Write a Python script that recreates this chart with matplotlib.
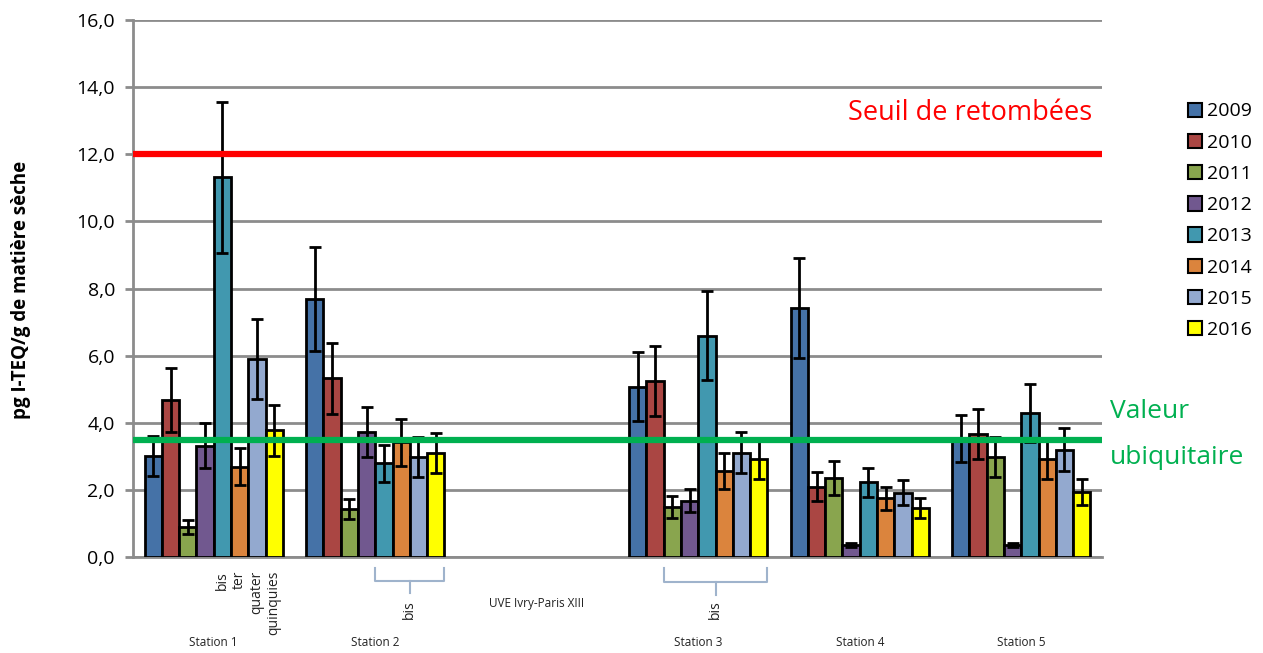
import numpy as np
import matplotlib
matplotlib.use("Agg")
import matplotlib.pyplot as plt
from matplotlib.patches import Patch
import matplotlib.transforms as mtransforms

plt.rcParams['font.family'] = ['Open Sans', 'DejaVu Sans']

categories = ["Station 1", "Station 2", "UVE Ivry-Paris XIII", "Station 3", "Station 4", "Station 5"]
years = ["2009", "2010", "2011", "2012", "2013", "2014", "2015", "2016"]
nan = np.nan
v2009 = [3.00, 7.69, nan, 5.07, 7.43, 3.53]
v2010 = [4.68, 5.32, nan, 5.25, 2.10, 3.66]
v2011 = [0.90, 1.42, nan, 1.50, 2.35, 2.99]
v2012 = [3.32, 3.73, nan, 1.68, 0.36, 0.36]
v2013 = [11.31, 2.79, nan, 6.59, 2.22, 4.28]
v2014 = [2.69, 3.42, nan, 2.57, 1.75, 2.92]
v2015 = [5.90, 2.99, nan, 3.11, 1.92, 3.19]
v2016 = [3.78, 3.09, nan, 2.91, 1.45, 1.93]
e2009 = [0.60, 1.54, nan, 1.03, 1.49, 0.70]
e2010 = [0.95, 1.07, nan, 1.04, 0.43, 0.74]
e2011 = [0.20, 0.30, nan, 0.33, 0.50, 0.60]
e2012 = [0.66, 0.75, nan, 0.35, 0.07, 0.07]
e2013 = [2.25, 0.56, nan, 1.33, 0.44, 0.86]
e2014 = [0.55, 0.70, nan, 0.53, 0.35, 0.60]
e2015 = [1.18, 0.60, nan, 0.62, 0.38, 0.64]
e2016 = [0.76, 0.60, nan, 0.58, 0.30, 0.39]
values = [v2009, v2010, v2011, v2012, v2013, v2014, v2015, v2016]
errors = [e2009, e2010, e2011, e2012, e2013, e2014, e2015, e2016]
colors = ["#4572a7", "#aa4643", "#89a54e", "#71588f", "#4198af", "#db843d", "#93a9cf", "#ffff00"]

seuil = 12.0
ubiquitaire = 3.5

W, H = 1263, 653
fig = plt.figure(figsize=(W / 100, H / 100), dpi=100)
ax = fig.add_axes([133 / W, 1 - 557 / H, (1102 - 133) / W, (557 - 20) / H])

x = np.arange(len(categories))
bw = 0.855 / len(years)
for i, (vals, errs, c) in enumerate(zip(values, errors, colors)):
    pos = x + (i - 3.5) * bw
    ax.bar(pos, vals, width=bw, color=c, edgecolor="black", linewidth=2, zorder=3)
    ax.errorbar(pos, vals, yerr=errs, fmt="none", ecolor="black", elinewidth=2,
                capsize=4.5, capthick=2, zorder=4)

ax.axhline(seuil, color="#ff0000", linewidth=4.5, zorder=5)
ax.axhline(ubiquitaire, color="#00b050", linewidth=4.5, zorder=5)

ax.set_xlim(-0.5, len(categories) - 0.5)
ax.set_ylim(0, 16)
ax.set_yticks(np.arange(0, 17, 2))
ax.set_yticklabels([f"{t:.1f}".replace(".", ",") for t in np.arange(0, 17, 2)], fontsize=14)
ax.set_xticks([])
ax.yaxis.grid(True, color="#8c8c8c", linewidth=2)
ax.set_axisbelow(True)
for s in ["top", "right"]:
    ax.spines[s].set_visible(False)
for s in ["left", "bottom"]:
    ax.spines[s].set_color("#8c8c8c")
    ax.spines[s].set_linewidth(2)
ax.tick_params(axis="y", color="#8c8c8c", width=2, length=6, pad=7)

fig.text(21 / W, 1 - 290 / H, "pg I-TEQ/g de matière sèche", fontsize=13.5, fontweight="bold",
         rotation=90, ha="center", va="center")

# threshold texts
fig.text(970 / W, 1 - 113 / H, "Seuil de retombées", color="#ff0000", fontsize=19.5,
         ha="center", va="center")
fig.text(1110 / W, 1 - 412 / H, "Valeur", color="#00b050", fontsize=19, ha="left", va="center")
fig.text(1110 / W, 1 - 457 / H, "ubiquitaire", color="#00b050", fontsize=19, ha="left", va="center")

# category labels
trans = mtransforms.blended_transform_factory(ax.transData, fig.transFigure)
for xi, name in zip(x, categories):
    yy = 603 if name.startswith("UVE") else 643
    ax.text(xi, 1 - yy / H, name, transform=trans, ha="center", va="center",
            fontsize=8.5, color="#222222")

# sub labels under Station 1
sub = ["bis", "ter", "quater", "quinquies"]
for k, lab in enumerate(sub):
    px = x[0] + (4 + k - 3.5) * bw
    ax.text(px, 1 - 571 / H, lab, transform=trans, rotation=90, ha="center", va="top",
            fontsize=10, color="#222222")

# brackets
bc = "#9fb3cc"
def bracket(x0, x1, ytop, ymid, ystem, ytext):
    xm = (x0 + x1) / 2
    ax.plot([x0, x0, x1, x1], [1 - ytop / H, 1 - ymid / H, 1 - ymid / H, 1 - ytop / H],
            transform=trans, color=bc, linewidth=1.5, clip_on=False, solid_joinstyle="round")
    ax.plot([xm, xm], [1 - ymid / H, 1 - ystem / H], transform=trans, color=bc,
            linewidth=1.5, clip_on=False)
    ax.text(xm, 1 - ytext / H, "bis", transform=trans, rotation=90, ha="center", va="top",
            fontsize=10, color="#222222")

bracket(x[1] + 0.0 * bw, x[1] + 4.0 * bw, 568, 581, 593, 600)
bracket(x[3] - 2.0 * bw, x[3] + 4.0 * bw, 568, 582, 595, 600)

handles = [Patch(facecolor=c, edgecolor="black", linewidth=1.5) for c in colors]
fig.legend(handles, years, loc="upper left", bbox_to_anchor=(1170 / W, 1 - 85 / H),
           frameon=False, fontsize=14, handlelength=0.75, handleheight=0.75,
           labelspacing=0.68, handletextpad=0.25)

fig.savefig("out.png", dpi=100)
